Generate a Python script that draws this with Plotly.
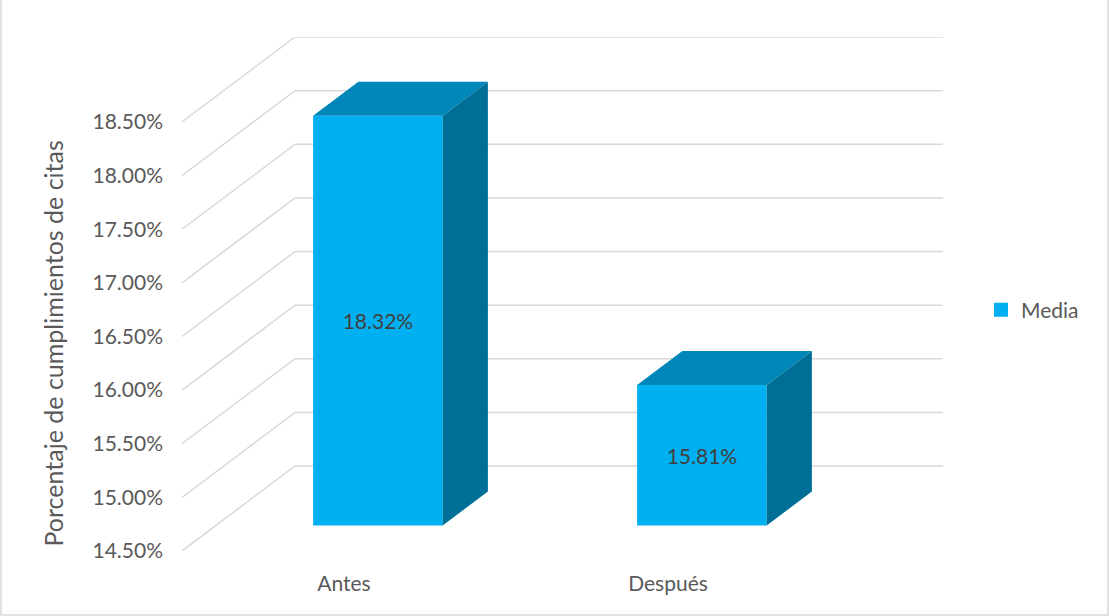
import plotly.graph_objects as go

# Chart data
categories = ["Antes", "Después"]
media_values = [18.32, 15.81]          # percent
tick_values = [14.5, 15.0, 15.5, 16.0, 16.5, 17.0, 17.5, 18.0, 18.5]
tick_labels = ["14.50%", "15.00%", "15.50%", "16.00%", "16.50%",
               "17.00%", "17.50%", "18.00%", "18.50%"]
series_name = "Media"
y_title = "Porcentaje de cumplimientos de citas"

# Oblique 3D projection settings (depth offsets in axis units)
BASE = 14.5
DX = 0.3488          # horizontal shift of the back wall, category units
DY = 0.7925          # vertical shift of the back wall, percent units
HALF_W = 0.2         # half bar width, category units
Z0, Z1 = 0.3, 0.7    # bar depth span (0 = front, 1 = back)

FRONT = "#00B0F0"
TOP = "#0087B9"
SIDE = "#006F98"
GRID = "#D9D9D9"
FONT = "Lato, 'Open Sans', sans-serif"

# plot-area geometry in pixels
W, H = 1109, 616
ML, MR, MT, MB = 182, 166, 37, 65
PX_PER_PCT = 107.25
y_top = BASE + (H - MT - MB) / PX_PER_PCT
pw, ph = W - ML - MR, H - MT - MB


def proj(x, y, z):
    return x + z * DX, y + z * DY


fig = go.Figure()

# front faces of the bars
xs = list(range(len(categories)))
fig.add_trace(go.Bar(
    x=[c + Z0 * DX for c in xs],
    y=[v - BASE for v in media_values],
    base=[BASE + Z0 * DY] * len(xs),
    width=2 * HALF_W,
    marker=dict(color=FRONT, line=dict(width=0)),
    name=series_name,
    showlegend=False,
    text=[f"{v:.2f}%" for v in media_values],
    textposition="inside",
    insidetextanchor="middle",
    textangle=0,
    constraintext="none",
    textfont=dict(family=FONT, size=21, color="#404040"),
    hoverinfo="skip",
))

# top and side faces
for c, v in zip(xs, media_values):
    top = [proj(c - HALF_W, v, Z0), proj(c + HALF_W, v, Z0),
           proj(c + HALF_W, v, Z1), proj(c - HALF_W, v, Z1)]
    side = [proj(c + HALF_W, BASE, Z0), proj(c + HALF_W, v, Z0),
            proj(c + HALF_W, v, Z1), proj(c + HALF_W, BASE, Z1)]
    for pts, col in ((top, TOP), (side, SIDE)):
        fig.add_trace(go.Scatter(
            x=[p[0] for p in pts] + [pts[0][0]],
            y=[p[1] for p in pts] + [pts[0][1]],
            mode="lines", fill="toself", fillcolor=col,
            line=dict(width=0, color=col),
            showlegend=False, hoverinfo="skip",
        ))

# legend entry for the series
fig.add_trace(go.Scatter(
    x=[None], y=[None], mode="markers", name=series_name,
    marker=dict(symbol="square", size=14, color=FRONT),
    showlegend=True, hoverinfo="skip",
))

# gridlines: side-wall diagonal plus back-wall horizontal
x_left = -0.5
x_right = len(categories) - 0.5
shapes = []
for t in tick_values:
    fx, fy = x_left, t
    bx, by = proj(x_left, t, 1.0)
    ex, ey = proj(x_right, t, 1.0)
    shapes.append(dict(
        type="path", xref="x", yref="y", layer="below",
        path=f"M{fx},{fy} L{bx},{by} L{ex},{ey}",
        line=dict(color=GRID, width=1.5),
    ))

# chart border
shapes.append(dict(
    type="rect", xref="paper", yref="paper", layer="below",
    x0=(-ML + 1) / pw, x1=(W - ML - 1) / pw,
    y0=(-MB + 1) / ph, y1=(H - MT - 1) / ph,
    line=dict(color=GRID, width=1.5), fillcolor="rgba(0,0,0,0)",
))

# value-axis title, centred on the front plane's tick range
title_mid = (tick_values[0] + tick_values[-1]) / 2
fig.add_annotation(
    text=y_title, textangle=-90,
    xref="paper", x=(52 - ML) / pw, xanchor="center",
    yref="y", y=title_mid, yanchor="middle", yshift=-7,
    showarrow=False,
    font=dict(family=FONT, size=25, color="#595959"),
)

fig.update_layout(
    width=W, height=H,
    margin=dict(l=ML, r=MR, t=MT, b=MB, autoexpand=False),
    paper_bgcolor="white", plot_bgcolor="white",
    font=dict(family=FONT, size=21, color="#595959"),
    shapes=shapes,
    showlegend=True,
    legend=dict(
        x=(981 - ML) / pw, xanchor="left",
        y=(H - MB - 310) / ph, yanchor="middle",
        font=dict(family=FONT, size=21, color="#595959"),
        bgcolor="rgba(0,0,0,0)",
        itemsizing="trace",
    ),
    xaxis=dict(
        range=[x_left, x_right + DX],
        tickvals=xs, ticktext=categories,
        showgrid=False, zeroline=False, showline=False,
        ticks="", ticklabelstandoff=18,
        tickfont=dict(family=FONT, size=21, color="#595959"),
        fixedrange=True,
    ),
    yaxis=dict(
        range=[BASE, y_top],
        tickvals=tick_values, ticktext=tick_labels,
        showgrid=False, zeroline=False, showline=False,
        ticks="", ticklabelstandoff=18,
        tickfont=dict(family=FONT, size=21, color="#595959"),
        fixedrange=True,
    ),
)

fig.write_html("out.html")
